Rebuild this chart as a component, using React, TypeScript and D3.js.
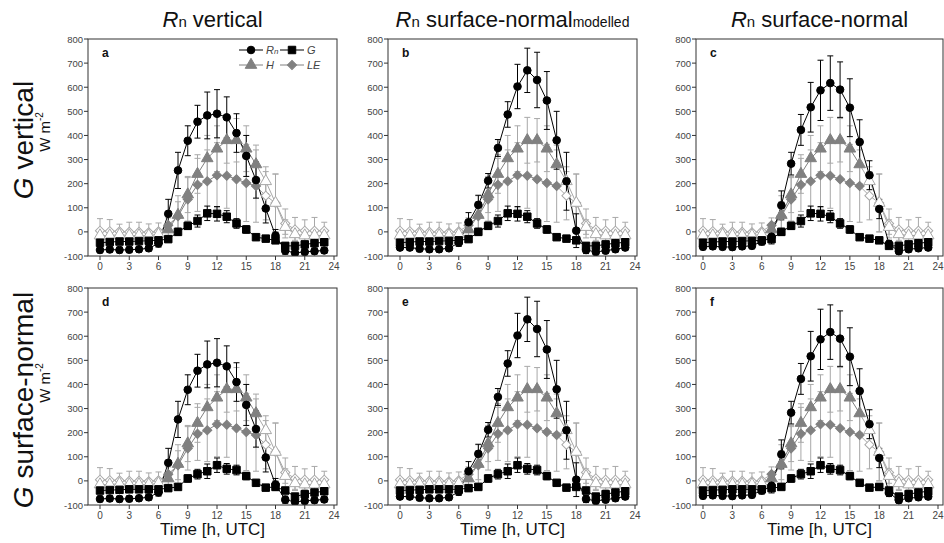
import React from 'react';
import * as d3 from 'd3';

// ---------- data ----------
const hours = d3.range(0, 24);
const xTickValues = [0, 3, 6, 9, 12, 15, 18, 21, 24];
const yTickValues = [-100, 0, 100, 200, 300, 400, 500, 600, 700, 800];
const panelLetters = ['a', 'b', 'c', 'd', 'e', 'f'];

const rnVertical = [-75, -73, -75, -74, -72, -68, -48, 75, 255, 378, 457, 483, 490, 475, 410, 315, 215, 97, -15, -78, -87, -83, -80, -77];
const rnVerticalSD = [12, 12, 12, 12, 12, 12, 15, 60, 75, 62, 68, 97, 100, 85, 80, 85, 75, 60, 25, 15, 12, 12, 12, 12];
const rnModelled = [-65, -65, -70, -72, -72, -68, -45, 40, 112, 212, 348, 487, 603, 670, 630, 545, 380, 210, 5, -75, -83, -78, -72, -65];
const rnModelledSD = [12, 12, 12, 12, 12, 12, 15, 40, 40, 30, 35, 53, 92, 92, 115, 120, 120, 120, 70, 15, 12, 12, 12, 12];
const rnSurface = [-62, -60, -62, -63, -60, -58, -40, -20, 110, 283, 423, 517, 587, 617, 590, 515, 373, 235, 95, -50, -80, -72, -68, -65];
const rnSurfaceSD = [12, 12, 12, 12, 12, 12, 15, 30, 60, 47, 64, 103, 125, 113, 115, 120, 92, 60, 40, 15, 12, 12, 12, 12];

const gVertical = [-45, -42, -40, -40, -38, -37, -35, -30, 0, 25, 45, 77, 75, 63, 35, 10, -22, -28, -35, -58, -58, -52, -47, -43];
const gVerticalSD = [10, 10, 10, 10, 10, 10, 10, 12, 15, 15, 25, 30, 30, 25, 20, 15, 10, 12, 12, 12, 12, 12, 10, 10];
const gSurface = [-40, -38, -37, -35, -35, -35, -35, -30, -25, 10, 28, 40, 65, 50, 45, 20, -8, -28, -25, -40, -65, -55, -48, -43];
const gSurfaceSD = [10, 10, 10, 10, 10, 10, 10, 12, 12, 15, 20, 30, 30, 22, 20, 15, 10, 12, 12, 12, 12, 12, 10, 10];

const hFlux = [-15, -15, -12, -15, -15, -15, -10, 10, 70, 155, 240, 305, 345, 380, 380, 345, 280, 210, 120, 20, -10, -15, -15, -15];
const hSD = [20, 20, 18, 20, 20, 20, 20, 25, 80, 75, 80, 95, 95, 95, 90, 95, 80, 60, 120, 30, 25, 20, 20, 20];
const leFlux = [5, 3, 2, 0, 0, -2, 2, 28, 65, 135, 195, 210, 235, 233, 218, 203, 190, 150, 120, 35, 10, 5, 5, 5];
const leSD = [50, 48, 30, 40, 40, 35, 35, 30, 60, 90, 110, 130, 135, 135, 170, 160, 150, 100, 120, 60, 50, 45, 55, 35];
const dayStart = 7;
const dayEnd = 16;

const columnTitles = [
  { main: ' vertical', sub: '' },
  { main: ' surface-normal', sub: 'modelled' },
  { main: ' surface-normal', sub: '' },
];
const rowTitles = [' vertical', ' surface-normal'];

// ---------- layout ----------
const colLayout = [
  { left: 88, x0: 100, x24: 334, right: 337 },
  { left: 388, x0: 400, x24: 635, right: 637 },
  { left: 696, x0: 703, x24: 938, right: 943 },
];
const rowLayout = [
  { top: 39, bottom: 256, labelY: 140, unitY: 132 },
  { top: 288, bottom: 505, labelY: 400, unitY: 383 },
];
const rnByCol = [
  [rnVertical, rnVerticalSD],
  [rnModelled, rnModelledSD],
  [rnSurface, rnSurfaceSD],
];
const gByRow = [
  [gVertical, gVerticalSD],
  [gSurface, gSurfaceSD],
];

const FONT = 'Liberation Sans, Arial, Helvetica, sans-serif';
const GRAY = '#808080';
const LIGHT = '#a8a8a8';
const AXIS = '#333';

const isDay = (h: number) => h >= dayStart && h <= dayEnd;

const circlePath = d3.symbol().type(d3.symbolCircle).size(46)()!;
const squarePath = d3.symbol().type(d3.symbolSquare).size(56)()!;
const trianglePath = d3.symbol().type(d3.symbolTriangle).size(58)()!;
const diamondPath = d3.symbol().type(d3.symbolSquare).size(42)()!;

function Marker({ kind, x, y, fill, stroke }: any) {
  const d = kind === 'circle' ? circlePath : kind === 'square' ? squarePath : kind === 'triangle' ? trianglePath : diamondPath;
  const rot = kind === 'diamond' ? ' rotate(45)' : '';
  return <path d={d} transform={`translate(${x},${y})${rot}`} fill={fill} stroke={stroke} strokeWidth={1} />;
}

function Panel({ ci, ri }: { ci: number; ri: number }) {
  const c = colLayout[ci];
  const r = rowLayout[ri];
  const x = d3.scaleLinear().domain([0, 24]).range([c.x0, c.x24]);
  const y = d3.scaleLinear().domain([-100, 800]).range([r.bottom, r.top]);
  const [rn, rnSD] = rnByCol[ci];
  const [g, gSD] = gByRow[ri];
  const clipId = `clip-${ci}-${ri}`;
  const line = d3.line<number>().x((_, i) => x(hours[i])).y((v) => y(v));

  const errorBars = (vals: number[], sds: number[], col: string, key: string) =>
    hours.map((h, i) => {
      const cx = x(h);
      const y1 = y(vals[i] + sds[i]);
      const y2 = y(vals[i] - sds[i]);
      return (
        <g key={key + i} stroke={col} strokeWidth={1}>
          <line x1={cx} x2={cx} y1={y1} y2={y2} />
          <line x1={cx - 3} x2={cx + 3} y1={y1} y2={y1} />
          <line x1={cx - 3} x2={cx + 3} y1={y2} y2={y2} />
        </g>
      );
    });

  const graySegments = (vals: number[], key: string) =>
    hours.slice(0, -1).map((h, i) => {
      const day = isDay(h) && isDay(h + 1);
      return (
        <line key={key + i} x1={x(h)} y1={y(vals[i])} x2={x(h + 1)} y2={y(vals[i + 1])} stroke={day ? GRAY : LIGHT} strokeWidth={1} />
      );
    });

  const letter = panelLetters[ri * 3 + ci];

  return (
    <g>
      <defs>
        <clipPath id={clipId}>
          <rect x={c.left} y={r.top} width={c.right - c.left} height={r.bottom - r.top} />
        </clipPath>
      </defs>
      <g clipPath={`url(#${clipId})`}>
        {errorBars(leFlux, leSD, LIGHT, 'le')}
        {errorBars(hFlux, hSD, LIGHT, 'h')}
        {errorBars(g, gSD, '#000', 'g')}
        {errorBars(rn, rnSD, '#000', 'rn')}
        {graySegments(leFlux, 'les')}
        {graySegments(hFlux, 'hs')}
        <path d={line(g)!} fill="none" stroke="#000" strokeWidth={1} />
        <path d={line(rn)!} fill="none" stroke="#000" strokeWidth={1} />
        {hours.map((h, i) => (
          <Marker key={'lem' + i} kind="diamond" x={x(h)} y={y(leFlux[i])} fill={isDay(h) ? GRAY : '#fff'} stroke={isDay(h) ? GRAY : LIGHT} />
        ))}
        {hours.map((h, i) => (
          <Marker key={'hm' + i} kind="triangle" x={x(h)} y={y(hFlux[i])} fill={isDay(h) ? GRAY : '#fff'} stroke={isDay(h) ? GRAY : LIGHT} />
        ))}
        {hours.map((h, i) => (
          <Marker key={'gm' + i} kind="square" x={x(h)} y={y(g[i])} fill="#000" stroke="#000" />
        ))}
        {hours.map((h, i) => (
          <Marker key={'rnm' + i} kind="circle" x={x(h)} y={y(rn[i])} fill="#000" stroke="#000" />
        ))}
      </g>
      <rect x={c.left} y={r.top} width={c.right - c.left} height={r.bottom - r.top} fill="none" stroke={AXIS} strokeWidth={1} />
      {yTickValues.map((t) => (
        <g key={'yt' + t}>
          <line x1={c.left - 4} x2={c.left} y1={y(t)} y2={y(t)} stroke={AXIS} />
          <text x={c.left - 5} y={y(t) + 3.5} textAnchor="end" fontSize={9.5} fill="#444" fontFamily={FONT}>
            {t}
          </text>
        </g>
      ))}
      {xTickValues.map((t) => (
        <g key={'xt' + t}>
          <line x1={x(t)} x2={x(t)} y1={r.bottom} y2={r.bottom + 4} stroke={AXIS} />
          <text x={x(t)} y={r.bottom + 14} textAnchor="middle" fontSize={10} fill="#444" fontFamily={FONT}>
            {t}
          </text>
        </g>
      ))}
      <text x={c.left + 14} y={r.top + 18} fontSize={12} fontWeight="bold" fill="#111" fontFamily={FONT}>
        {letter}
      </text>
      {ri === 1 && (
        <text x={(c.left + c.right) / 2} y={r.bottom + 30} textAnchor="middle" fontSize={17} fill="#111" fontFamily={FONT}>
          Time [h, UTC]
        </text>
      )}
      {ri === 0 && (
        <text x={(c.left + c.right) / 2} y={27} textAnchor="middle" fontSize={22} fill="#111" fontFamily={FONT}>
          <tspan fontStyle="italic">R</tspan>
          <tspan fontSize={15}>n</tspan>
          <tspan>{columnTitles[ci].main}</tspan>
          {columnTitles[ci].sub && <tspan fontSize={14}>{columnTitles[ci].sub}</tspan>}
        </text>
      )}
      {ci === 0 && ri === 0 && <Legend />}
    </g>
  );
}

function Legend() {
  const rows = [
    [
      { kind: 'circle', fill: '#000', label: 'R', sub: 'n' },
      { kind: 'square', fill: '#000', label: 'G', sub: '' },
    ],
    [
      { kind: 'triangle', fill: GRAY, label: 'H', sub: '' },
      { kind: 'diamond', fill: GRAY, label: 'LE', sub: '' },
    ],
  ];
  const xs = [251, 292];
  const ys = [50, 65];
  return (
    <g>
      {rows.map((row, ri) =>
        row.map((it, k) => (
          <g key={`${ri}-${k}`}>
            <line x1={xs[k] - 12} x2={xs[k] + 12} y1={ys[ri]} y2={ys[ri]} stroke={it.fill} strokeWidth={1} />
            <Marker kind={it.kind} x={xs[k]} y={ys[ri]} fill={it.fill} stroke={it.fill} />
            <text x={xs[k] + 15} y={ys[ri] + 4} fontSize={11} fontStyle="italic" fill="#444" fontFamily={FONT}>
              {it.label}
              {it.sub && <tspan fontSize={8}>{it.sub}</tspan>}
            </text>
          </g>
        ))
      )}
    </g>
  );
}

export default function App() {
  return (
    <svg width={944} height={543} style={{ position: 'absolute', left: 0, top: 0, background: '#fff' }}>
      <rect x={0} y={0} width={944} height={543} fill="#fff" />
      {rowLayout.map((r, ri) => (
        <g key={'rowlab' + ri}>
          <text transform={`translate(33,${r.labelY}) rotate(-90)`} textAnchor="middle" fontSize={28} fill="#111" fontFamily={FONT}>
            <tspan fontStyle="italic">G</tspan>
            <tspan>{rowTitles[ri]}</tspan>
          </text>
          <text transform={`translate(50,${r.unitY}) rotate(-90)`} textAnchor="middle" fontSize={15} fill="#111" fontFamily={FONT}>
            W m
            <tspan fontSize={10} dy={-7}>-2</tspan>
          </text>
        </g>
      ))}
      {rowLayout.map((r, ri) => colLayout.map((c, ci) => <Panel key={`${ri}-${ci}`} ci={ci} ri={ri} />))}
    </svg>
  );
}
